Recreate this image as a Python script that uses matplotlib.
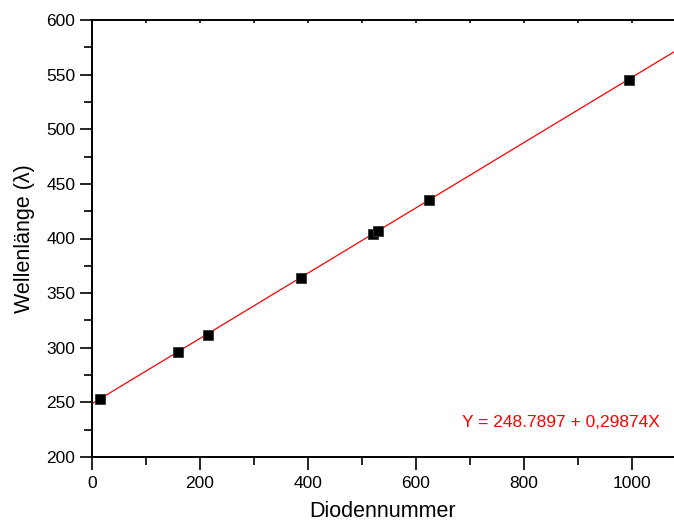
import numpy as np
import matplotlib.pyplot as plt
from matplotlib.ticker import MultipleLocator

# Messpunkte: Diodennummer gegen Wellenlaenge
diode = [15, 159, 214, 388, 520, 530, 625, 995]
wellenlaenge = [252.8, 295.8, 312.0, 364.1, 403.8, 407.2, 435.2, 545.1]

# Fitparameter der Ausgleichsgeraden
fit_a = 248.7897
fit_b = 0.29874
fit_text = "Y = 248.7897 + 0,29874X"

plt.rcParams['font.family'] = ['Liberation Sans', 'DejaVu Sans']

fig = plt.figure(figsize=(6.74, 5.28), dpi=100)
ax = fig.add_axes([92 / 674, 71 / 528, 1 - 92 / 674, 437 / 528])

# Gerade
xs = np.array([0, 1100])
ax.plot(xs, fit_a + fit_b * xs, color='red', lw=0.9, zorder=2)
ax.plot(diode, wellenlaenge, 's', color='black', ms=6.5, mec='#333333', mew=0.6, zorder=3)

ax.set_xlim(0, 1078)
ax.set_ylim(200, 600)
ax.xaxis.set_major_locator(MultipleLocator(200))
ax.xaxis.set_minor_locator(MultipleLocator(100))
ax.yaxis.set_major_locator(MultipleLocator(50))
ax.yaxis.set_minor_locator(MultipleLocator(25))

for s in ['left', 'bottom', 'top']:
    ax.spines[s].set_linewidth(1.4)
ax.spines['right'].set_visible(False)

ax.tick_params(axis='both', which='major', direction='out', length=9, width=1.2,
               labelsize=12.5, top=False)
ax.tick_params(axis='both', which='minor', direction='out', length=5.5, width=1.2, top=False)
ax.tick_params(axis='x', which='major', pad=5)
ax.tick_params(axis='y', which='major', pad=3)

# kleine Striche oben nach innen
sec = ax.secondary_xaxis('top')
sec.xaxis.set_major_locator(MultipleLocator(100))
sec.tick_params(direction='in', length=2.5, width=1.2, labeltop=False)
sec.spines['top'].set_visible(False)

ax.set_xlabel("Diodennummer", fontsize=15.5, labelpad=7)
ax.set_ylabel("Wellenlänge (λ)", fontsize=15.5, labelpad=8)

ax.text(1052, 227.7, fit_text, color='red', fontsize=12.5, ha='right', va='baseline')

fig.savefig("out.png", dpi=100)
